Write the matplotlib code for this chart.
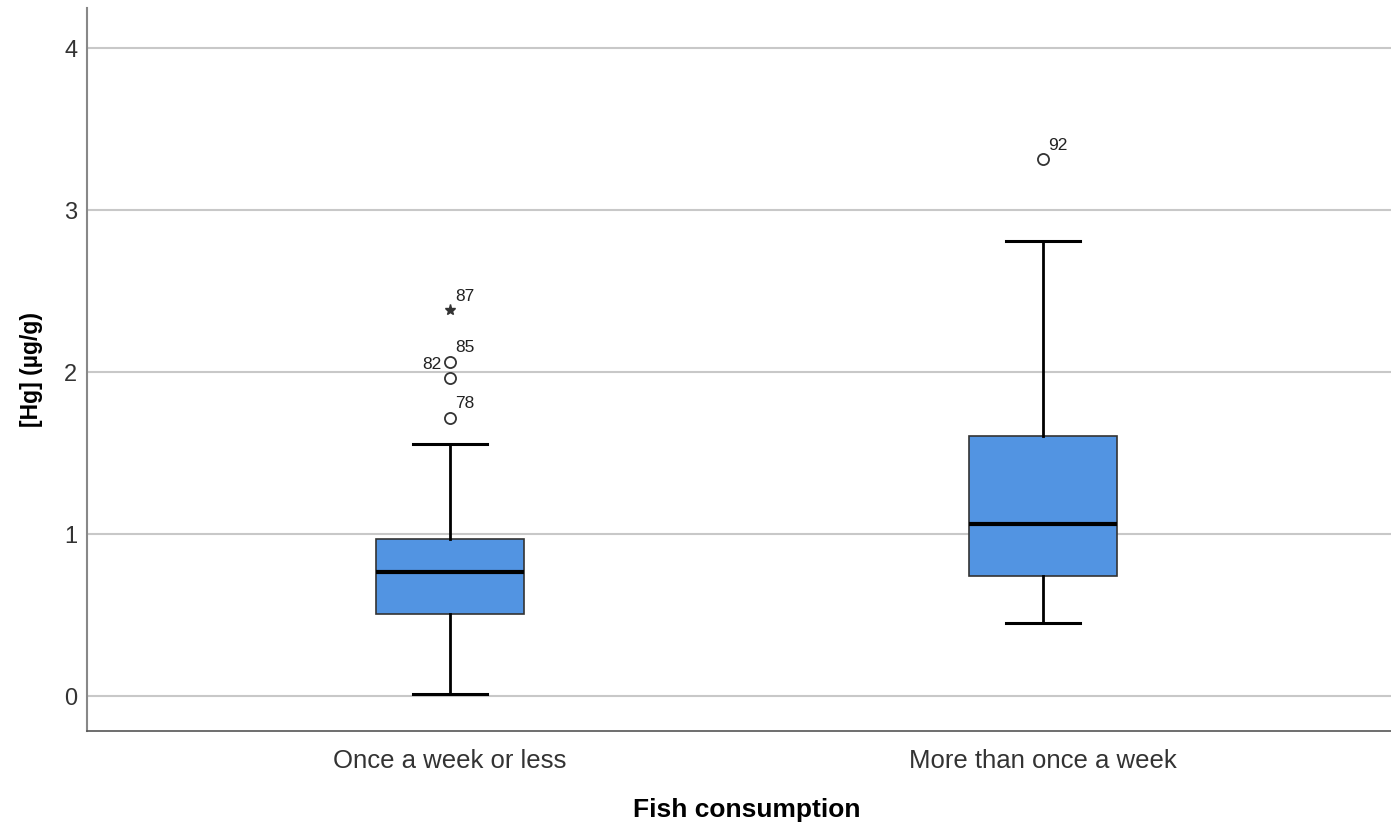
import matplotlib
matplotlib.use("Agg")
import matplotlib.pyplot as plt

# Data
categories = ["Once a week or less", "More than once a week"]
whisker_low = [0.012, 0.451]
q1 = [0.508, 0.741]
median = [0.764, 1.062]
q3 = [0.969, 1.605]
whisker_high = [1.556, 2.806]
outliers = [[1.716, 1.963, 2.062], [3.312]]
outlier_labels = [["78", "82", "85"], ["92"]]
extremes = [[2.380], []]
extreme_labels = [["87"], []]

plt.rcParams['font.family'] = ['Liberation Sans', 'DejaVu Sans']

fig = plt.figure(figsize=(13.91, 8.26), dpi=100)
ax = fig.add_axes([87/1391, 95/826, 1 - 87/1391, 723/826])

stats = []
for i, c in enumerate(categories):
    stats.append(dict(label=c, whislo=whisker_low[i], q1=q1[i], med=median[i],
                      q3=q3[i], whishi=whisker_high[i], fliers=outliers[i]))

positions = list(range(len(categories)))
ax.bxp(stats, positions=positions, widths=0.25, patch_artist=True,
       boxprops=dict(facecolor="#5294e2", edgecolor="#333333", linewidth=1.2),
       medianprops=dict(color="black", linewidth=3),
       whiskerprops=dict(color="black", linewidth=2),
       capprops=dict(color="black", linewidth=2.2),
       capwidths=0.125,
       flierprops=dict(marker="o", markerfacecolor="white", markeredgecolor="#333333",
                       markersize=8, markeredgewidth=1.3),
       zorder=3)

for i, vals in enumerate(extremes):
    for v in vals:
        ax.plot(positions[i], v, marker="*", color="#333333", markersize=8, zorder=4, linestyle="none")

# Outlier labels
for i, vals in enumerate(outliers):
    for v, lab in zip(vals, outlier_labels[i]):
        if lab == "82":
            ax.annotate(lab, (positions[i], outliers[i][2]), xytext=(-20, -5), textcoords="offset points",
                        fontsize=12.5, color="#222222")
        else:
            ax.annotate(lab, (positions[i], v), xytext=(4, 7), textcoords="offset points",
                        fontsize=12.5, color="#222222")
for i, vals in enumerate(extremes):
    for v, lab in zip(vals, extreme_labels[i]):
        ax.annotate(lab, (positions[i], v), xytext=(4, 7), textcoords="offset points",
                    fontsize=12.5, color="#222222")

ax.set_xlim(-0.612, 1.587)
ax.set_ylim(-0.216, 4.247)
ax.set_yticks([0, 1, 2, 3, 4])
ax.set_yticklabels(["0", "1", "2", "3", "4"])
ax.set_xticks(positions)
ax.set_xticklabels(categories)
ax.tick_params(axis="y", length=0, pad=7, labelsize=17, labelcolor="#333333")
ax.tick_params(axis="x", length=0, pad=13, labelsize=18.5, labelcolor="#333333")
ax.yaxis.grid(True, color="#c8c8c8", linewidth=1.5, zorder=0)
ax.set_axisbelow(True)

for s in ["top", "right"]:
    ax.spines[s].set_visible(False)
ax.spines["left"].set_color("#888888")
ax.spines["left"].set_linewidth(1.5)
ax.spines["bottom"].set_color("#555555")
ax.spines["bottom"].set_linewidth(1.2)

ax.set_xlabel("Fish consumption", fontsize=19, fontweight="bold")
ax.set_ylabel("[Hg] (µg/g)", fontsize=16.5, fontweight="bold")
ax.xaxis.set_label_coords(0.506, -0.093)
ax.yaxis.set_label_coords(-0.034, 0.5)

fig.savefig("out.png", dpi=100)
